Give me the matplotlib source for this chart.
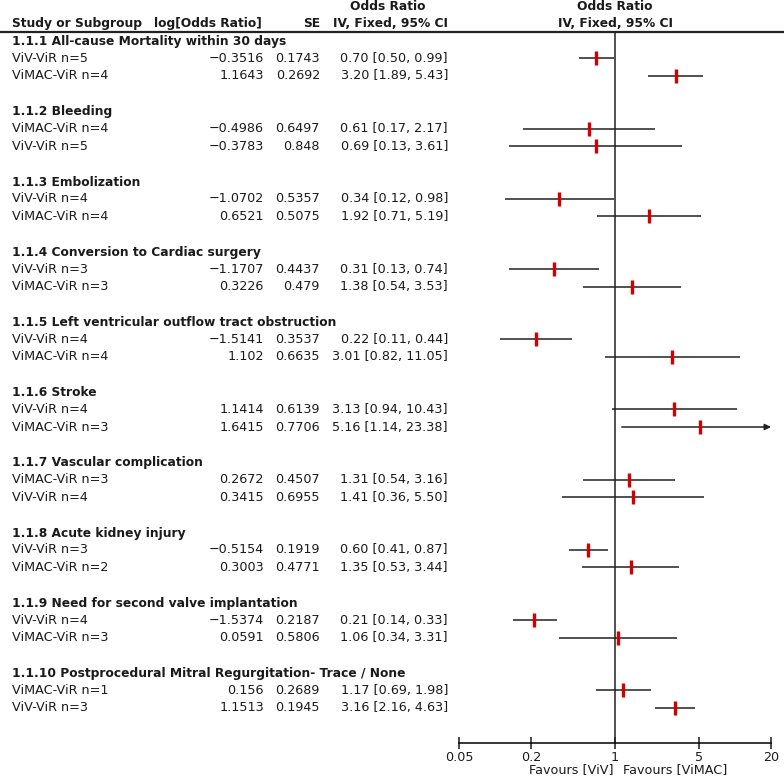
import matplotlib.pyplot as plt
import matplotlib.transforms as mtransforms
import numpy as np

# Dados do forest plot
grupos = [
    "1.1.1 All-cause Mortality within 30 days",
    "1.1.2 Bleeding",
    "1.1.3 Embolization",
    "1.1.4 Conversion to Cardiac surgery",
    "1.1.5 Left ventricular outflow tract obstruction",
    "1.1.6 Stroke",
    "1.1.7 Vascular complication",
    "1.1.8 Acute kidney injury",
    "1.1.9 Need for second valve implantation",
    "1.1.10 Postprocedural Mitral Regurgitation- Trace / None",
]
estudos = [
    ["ViV-ViR n=5", "ViMAC-ViR n=4"],
    ["ViMAC-ViR n=4", "ViV-ViR n=5"],
    ["ViV-ViR n=4", "ViMAC-ViR n=4"],
    ["ViV-ViR n=3", "ViMAC-ViR n=3"],
    ["ViV-ViR n=4", "ViMAC-ViR n=4"],
    ["ViV-ViR n=4", "ViMAC-ViR n=3"],
    ["ViMAC-ViR n=3", "ViV-ViR n=4"],
    ["ViV-ViR n=3", "ViMAC-ViR n=2"],
    ["ViV-ViR n=4", "ViMAC-ViR n=3"],
    ["ViMAC-ViR n=1", "ViV-ViR n=3"],
]
log_or = [
    [-0.3516, 1.1643], [-0.4986, -0.3783], [-1.0702, 0.6521], [-1.1707, 0.3226],
    [-1.5141, 1.102], [1.1414, 1.6415], [0.2672, 0.3415], [-0.5154, 0.3003],
    [-1.5374, 0.0591], [0.156, 1.1513],
]
se = [
    [0.1743, 0.2692], [0.6497, 0.848], [0.5357, 0.5075], [0.4437, 0.479],
    [0.3537, 0.6635], [0.6139, 0.7706], [0.4507, 0.6955], [0.1919, 0.4771],
    [0.2187, 0.5806], [0.2689, 0.1945],
]
odds = [
    [0.70, 3.20], [0.61, 0.69], [0.34, 1.92], [0.31, 1.38], [0.22, 3.01],
    [3.13, 5.16], [1.31, 1.41], [0.60, 1.35], [0.21, 1.06], [1.17, 3.16],
]
ic_inf = [
    [0.50, 1.89], [0.17, 0.13], [0.12, 0.71], [0.13, 0.54], [0.11, 0.82],
    [0.94, 1.14], [0.54, 0.36], [0.41, 0.53], [0.14, 0.34], [0.69, 2.16],
]
ic_sup = [
    [0.99, 5.43], [2.17, 3.61], [0.98, 5.19], [0.74, 3.53], [0.44, 11.05],
    [10.43, 23.38], [3.16, 5.50], [0.87, 3.44], [0.33, 3.31], [1.98, 4.63],
]
ticks_x = [0.05, 0.2, 1, 5, 20]
tick_labels = ["0.05", "0.2", "1", "5", "20"]

cor_texto = "#1a1a1a"
fonte = 9.2
fonte_negrito = 8.85

fig = plt.figure(figsize=(7.84, 7.78), dpi=100)
ax = fig.add_axes([459 / 784, 1 - 743 / 778, (771 - 459) / 784, (743 - 32) / 778])
ax.set_xscale("log")
ax.set_xlim(0.05, 20)
ax.set_ylim(40, -0.5)

# transform: x em fração da figura, y em linhas
trans = mtransforms.blended_transform_factory(fig.transFigure, ax.transData)

def fx(px):
    return px / 784

def fmt(v):
    return str(v).replace("-", "\u2212")

linha = 0
for g in range(len(grupos)):
    ax.text(fx(12), linha + 0.05, grupos[g], transform=trans, fontsize=fonte_negrito,
            fontweight="bold", va="center", ha="left", color=cor_texto, clip_on=False)
    for k in range(2):
        y = linha + 1 + k
        ax.text(fx(12), y, estudos[g][k], transform=trans, fontsize=fonte,
                va="center", ha="left", color=cor_texto, clip_on=False)
        ax.text(fx(264), y, fmt(log_or[g][k]), transform=trans, fontsize=fonte,
                va="center", ha="right", color=cor_texto, clip_on=False)
        ax.text(fx(320), y, fmt(se[g][k]), transform=trans, fontsize=fonte,
                va="center", ha="right", color=cor_texto, clip_on=False)
        ax.text(fx(448), y, "%.2f [%.2f, %.2f]" % (odds[g][k], ic_inf[g][k], ic_sup[g][k]),
                transform=trans, fontsize=fonte, va="center", ha="right", color=cor_texto,
                clip_on=False)
        lo = ic_inf[g][k]
        hi = ic_sup[g][k]
        if hi > 20:
            ax.annotate("", xy=(20, y), xytext=(lo, y),
                        arrowprops=dict(arrowstyle="-|>", color="#222222", lw=1.1,
                                        mutation_scale=9, shrinkA=0, shrinkB=0),
                        annotation_clip=False)
        else:
            ax.plot([lo, hi], [y, y], color="#222222", lw=1.1, solid_capstyle="butt")
        ax.plot([odds[g][k]], [y], marker="|", markersize=10, markeredgewidth=2.4,
                color="#d40000", zorder=5)
    linha += 4

# cabeçalhos
y1, y2 = -1.94, -0.97
ax.text(fx(12), y2, "Study or Subgroup", transform=trans, fontsize=fonte_negrito, fontweight="bold",
        va="center", ha="left", color=cor_texto, clip_on=False)
ax.text(fx(262), y2, "log[Odds Ratio]", transform=trans, fontsize=fonte_negrito, fontweight="bold",
        va="center", ha="right", color=cor_texto, clip_on=False)
ax.text(fx(320), y2, "SE", transform=trans, fontsize=fonte_negrito, fontweight="bold",
        va="center", ha="right", color=cor_texto, clip_on=False)
ax.text(fx(448), y2, "IV, Fixed, 95% CI", transform=trans, fontsize=fonte_negrito, fontweight="bold",
        va="center", ha="right", color=cor_texto, clip_on=False)
ax.text(fx(388), y1, "Odds Ratio", transform=trans, fontsize=fonte_negrito, fontweight="bold",
        va="center", ha="center", color=cor_texto, clip_on=False)
ax.text(fx(615), y2, "IV, Fixed, 95% CI", transform=trans, fontsize=fonte_negrito, fontweight="bold",
        va="center", ha="center", color=cor_texto, clip_on=False)
ax.text(fx(615), y1, "Odds Ratio", transform=trans, fontsize=fonte_negrito, fontweight="bold",
        va="center", ha="center", color=cor_texto, clip_on=False)

# linha horizontal do cabeçalho
ax.plot([0, 1], [-0.5, -0.5], transform=trans, color="#222222", lw=1.6, clip_on=False)

# linha vertical em 1
ax.axvline(1, color="#222222", lw=1.1)

for s in ["top", "right", "left"]:
    ax.spines[s].set_visible(False)
ax.spines["bottom"].set_linewidth(1.1)
ax.set_yticks([])
ax.set_xticks(ticks_x)
ax.set_xticklabels(tick_labels)
ax.minorticks_off()
ax.tick_params(axis="x", direction="inout", length=9, width=1.1, labelsize=fonte,
               pad=1, colors=cor_texto)

ax.text(0.495, -0.037, "Favours [ViV]", transform=ax.transAxes, fontsize=fonte,
        ha="right", va="center", color=cor_texto)
ax.text(0.525, -0.037, "Favours [ViMAC]", transform=ax.transAxes, fontsize=fonte,
        ha="left", va="center", color=cor_texto)

fig.savefig("out.png", dpi=100)
